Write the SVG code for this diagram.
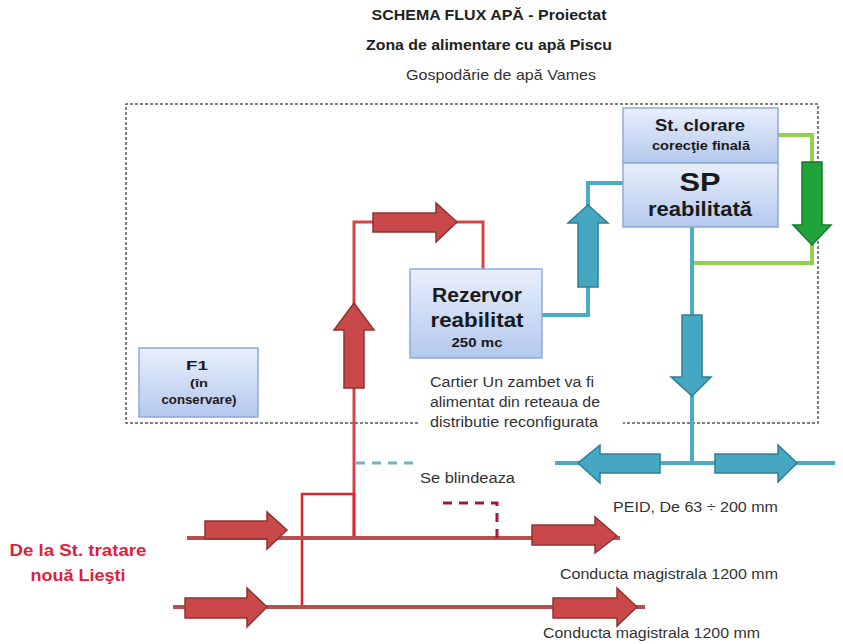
<svg xmlns="http://www.w3.org/2000/svg" width="843" height="644" viewBox="0 0 843 644">
  <defs>
    <linearGradient id="boxFill" x1="0" y1="0" x2="0" y2="1">
      <stop offset="0" stop-color="#e8effb"/>
      <stop offset="1" stop-color="#b4c8ee"/>
    </linearGradient>
    <style>
      text { font-family: "Liberation Sans", Arial, sans-serif; fill: #222; }
      .title { font-size: 14px; font-weight: bold; text-anchor: middle; }
      .sub { font-size: 15px; text-anchor: middle; fill: #333; }
      .lbl { font-size: 14px; fill: #333; }
      .bold { font-weight: bold; text-anchor: middle; fill: #1a1a1a; }
      .src { font-size: 17px; font-weight: bold; text-anchor: middle; fill: #e0203a; }
      .box { fill: url(#boxFill); stroke: #8eaad8; stroke-width: 1.5; }
      .zone { fill: none; stroke: #555; stroke-width: 1.5; stroke-dasharray: 3 2; }
      .red { fill: none; stroke: #d8434a; stroke-width: 3; }
      .redBright { fill: none; stroke: #e0222c; stroke-width: 2.5; }
      .main { fill: none; stroke: #b8504f; stroke-width: 4; }
      .blue { fill: none; stroke: #4babc4; stroke-width: 4; }
      .green { fill: none; stroke: #92d050; stroke-width: 4; }
      .blueDash { fill: none; stroke: #7aaec6; stroke-width: 3; stroke-dasharray: 9 7; }
      .redDash { fill: none; stroke: #a3173c; stroke-width: 3; stroke-dasharray: 9 7; }
      .arRed { fill: #c9484a; stroke: #8c3432; stroke-width: 1.5; }
      .arBlue { fill: #45a7c2; stroke: #2f7f94; stroke-width: 1.5; }
      .arGreen { fill: #1fa33a; stroke: #167a2a; stroke-width: 1.5; }
    </style>
  </defs>

  <rect width="843" height="644" fill="#ffffff"/>

  <!-- headings -->
  <text class="title" x="489" y="20" textLength="235" lengthAdjust="spacingAndGlyphs">SCHEMA FLUX APĂ - Proiectat</text>
  <text class="title" x="489" y="50" textLength="246" lengthAdjust="spacingAndGlyphs">Zona de alimentare cu apă Piscu</text>
  <text class="sub" x="501" y="80" textLength="190" lengthAdjust="spacingAndGlyphs">Gospodărie de apă Vames</text>

  <!-- boundary of the water works, open where the note crosses it -->
  <path class="zone" d="M418 423 L126 423 L126 104 L818 104 L818 423 L623 423"/>

  <g id="connectors">
    <!-- red supply: riser, top run and drop into the reservoir -->
    <path class="red" d="M354 540 L354 222 L483 222 L483 269"/>
    <!-- bypass loop between the two mains -->
    <path class="redBright" d="M354 540 L354 494 L302 494 L302 607"/>
    <!-- main pipelines -->
    <path class="main" d="M187 538 L620 538"/>
    <path class="main" d="M173 607 L645 607"/>
    <!-- blanked branches -->
    <path class="blueDash" d="M356 463 L418 463"/>
    <path class="redDash" d="M443 503 L497 503 L497 538"/>
    <!-- blue: reservoir to pumping station, pumping station to network -->
    <path class="blue" d="M542 315 L588 315 L588 183 L623 183"/>
    <path class="blue" d="M692 227 L692 463"/>
    <path class="blue" d="M555 463 L835 463"/>
    <!-- green chlorination loop -->
    <path class="green" d="M778 135 L812 135 L812 263 L694 263"/>

    <!-- flow arrows -->
    <polygon class="arRed" points="373,213 436,213 436,203 457,222 436,242 436,232 373,232"/>
    <polygon class="arRed" points="344,388 344,330 334,330 354,303 374,330 364,330 364,388"/>
    <polygon class="arRed" points="205,521 267,521 267,512 287,530 267,549 267,539 205,539"/>
    <polygon class="arRed" points="532,525 595,525 595,517 617,536 595,553 595,545 532,545"/>
    <polygon class="arRed" points="185,598 247,598 247,588 267,607 247,627 247,618 185,618"/>
    <polygon class="arRed" points="553,598 617,598 617,588 637,607 617,626 617,618 553,618"/>

    <polygon class="arBlue" points="578,287 578,223 568,223 588,205 608,223 598,223 598,287"/>
    <polygon class="arBlue" points="682,315 702,315 702,377 711,377 692,396 671,377 682,377"/>
    <polygon class="arBlue" points="660,454 600,454 600,445 578,463 600,483 600,473 660,473"/>
    <polygon class="arBlue" points="715,454 778,454 778,445 797,463 778,482 778,473 715,473"/>

    <polygon class="arGreen" points="802,162 822,162 822,225 831,225 812,245 793,225 802,225"/>
  </g>

  <g id="st-clorare">
    <rect class="box" x="623" y="108" width="155" height="55"/>
    <text class="bold" x="700" y="131" font-size="17" textLength="90" lengthAdjust="spacingAndGlyphs">St. clorare</text>
    <text class="bold" x="701" y="150" font-size="12.5" textLength="98" lengthAdjust="spacingAndGlyphs">corecţie finală</text>
  </g>

  <g id="sp-reabilitata">
    <rect class="box" x="623" y="163" width="155" height="64"/>
    <text class="bold" x="700" y="191" font-size="25" textLength="41" lengthAdjust="spacingAndGlyphs">SP</text>
    <text class="bold" x="700" y="216" font-size="19.5" textLength="104" lengthAdjust="spacingAndGlyphs">reabilitată</text>
  </g>

  <g id="rezervor">
    <rect class="box" x="410" y="269" width="132" height="89"/>
    <text class="bold" x="477" y="302" font-size="20.5" textLength="90" lengthAdjust="spacingAndGlyphs">Rezervor</text>
    <text class="bold" x="477" y="327" font-size="20.5" textLength="93" lengthAdjust="spacingAndGlyphs">reabilitat</text>
    <text class="bold" x="477" y="347" font-size="13.5" textLength="51" lengthAdjust="spacingAndGlyphs">250 mc</text>
  </g>

  <g id="f1">
    <rect class="box" x="139" y="348" width="119" height="69"/>
    <text class="bold" x="197" y="370" font-size="13.5" textLength="22" lengthAdjust="spacingAndGlyphs">F1</text>
    <text class="bold" x="199" y="387" font-size="11.5" textLength="18" lengthAdjust="spacingAndGlyphs">(în</text>
    <text class="bold" x="199" y="404" font-size="12.5" textLength="75" lengthAdjust="spacingAndGlyphs">conservare)</text>
  </g>

  <!-- notes and pipe labels -->
  <text class="lbl" x="430" y="387" textLength="164" lengthAdjust="spacingAndGlyphs">Cartier Un zambet va fi</text>
  <text class="lbl" x="430" y="407" textLength="170" lengthAdjust="spacingAndGlyphs">alimentat din reteaua de</text>
  <text class="lbl" x="430" y="427" textLength="168" lengthAdjust="spacingAndGlyphs">distributie reconfigurata</text>
  <text class="lbl" x="420" y="483" textLength="95" lengthAdjust="spacingAndGlyphs">Se blindeaza</text>
  <text class="lbl" x="613" y="512" textLength="165" lengthAdjust="spacingAndGlyphs">PEID, De 63 ÷ 200 mm</text>
  <text class="lbl" x="560" y="579" textLength="218" lengthAdjust="spacingAndGlyphs">Conducta magistrala 1200 mm</text>
  <text class="lbl" x="543" y="638" textLength="217" lengthAdjust="spacingAndGlyphs">Conducta magistrala 1200 mm</text>

  <g id="sursa">
    <text class="src" x="78" y="556" textLength="137" lengthAdjust="spacingAndGlyphs">De la St. tratare</text>
    <text class="src" x="78" y="581" textLength="95" lengthAdjust="spacingAndGlyphs">nouă Lieşti</text>
  </g>
</svg>
